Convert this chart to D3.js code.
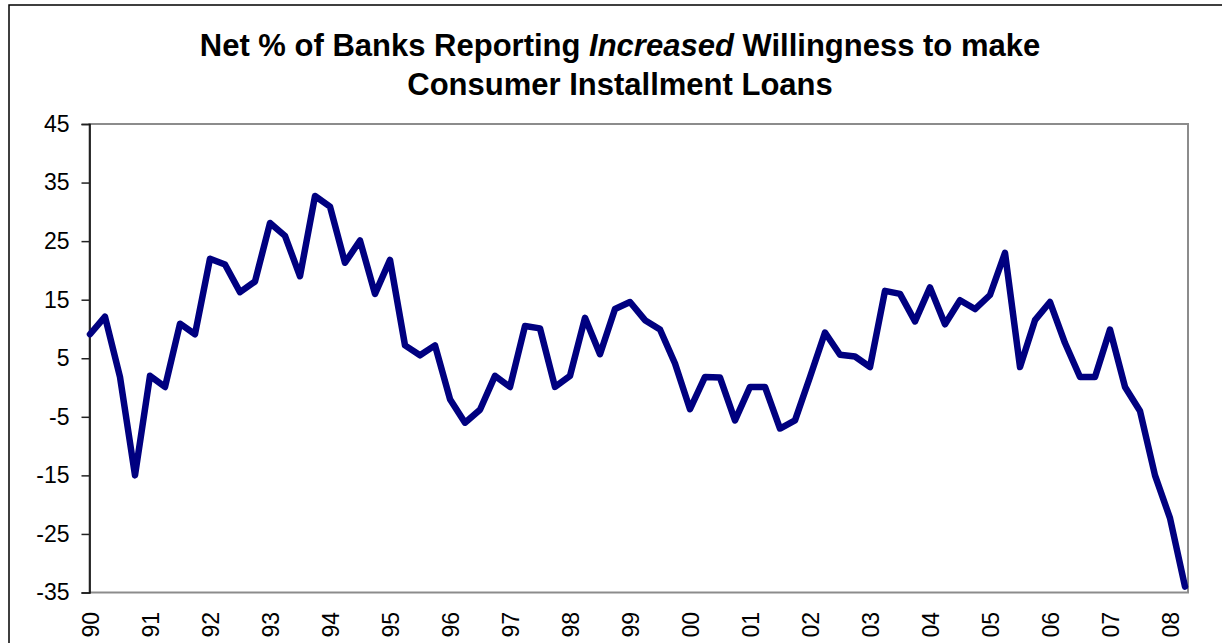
<!DOCTYPE html>
<html>
<head>
<meta charset="utf-8">
<script src="https://cdn.jsdelivr.net/npm/d3@7"></script>
<style>
  html, body { margin: 0; padding: 0; background: #fff; }
  svg { display: block; font-family: "Liberation Sans", Arial, sans-serif; }
</style>
</head>
<body>
<svg id="chart" width="1222" height="643"></svg>
<script>
// Year labels shown along the bottom (one per year, at the first quarter)
const yearLabels = ["90","91","92","93","94","95","96","97","98","99",
                    "00","01","02","03","04","05","06","07","08"];

// Quarterly net percentage, 1990 Q1 through 2008 Q2
const netPercent = [
   9.1, 12.1,  1.8, -15.0,   // 1990
   2.0,  0.1, 10.9,   9.1,   // 1991
  22.0, 21.0, 16.3,  18.1,   // 1992
  28.1, 25.9, 19.0,  32.7,   // 1993
  30.9, 21.3, 25.1,  16.0,   // 1994
  21.8,  7.2,  5.5,   7.2,   // 1995
  -2.0, -6.0, -3.8,   2.0,   // 1996
   0.1, 10.5, 10.1,   0.1,   // 1997
   2.0, 11.9,  5.7,  13.4,   // 1998
  14.6, 11.5,  9.9,   4.1,   // 1999
  -3.7,  1.8,  1.7,  -5.6,   // 2000
   0.1,  0.1, -7.0,  -5.6,   // 2001
   1.8,  9.4,  5.6,   5.3,   // 2002
   3.5, 16.5, 16.0,  11.3,   // 2003
  17.1, 10.8, 14.9,  13.4,   // 2004
  15.8, 23.0,  3.5,  11.5,   // 2005
  14.6,  7.6,  1.8,   1.8,   // 2006
   9.9,  0.1, -4.0, -15.0,   // 2007
 -22.3, -34.0                // 2008
];

// Value axis ticks
const yTicks = [45, 35, 25, 15, 5, -5, -15, -25, -35];

const svg = d3.select("#chart");
const FONT = "Liberation Sans, Arial, sans-serif";

// Outer chart frame (runs past the right and bottom edges)
svg.append("rect")
  .attr("x", 9).attr("y", 5)
  .attr("width", 1240).attr("height", 700)
  .attr("fill", "none").attr("stroke", "#000").attr("stroke-width", 1.5);

// Title
const title = svg.append("text")
  .attr("x", 620).attr("text-anchor", "middle")
  .attr("font-size", 31).attr("font-weight", "bold").attr("fill", "#000");
const l1 = title.append("tspan").attr("x", 620).attr("y", 56);
l1.append("tspan").text("Net % of Banks Reporting ");
l1.append("tspan").attr("font-style", "italic").text("Increased");
l1.append("tspan").text(" Willingness to make");
title.append("tspan").attr("x", 620).attr("y", 95).text("Consumer Installment Loans");

// Plot area
const plot = { left: 89.5, right: 1188, top: 124, bottom: 592.5 };

const x = d3.scaleLinear()
  .domain([0, netPercent.length - 1])
  .range([plot.left + 0.5, 1185]);

const y = d3.scaleLinear()
  .domain([-35, 45])
  .range([plot.bottom, plot.top]);

// Plot area border (gray)
svg.append("rect")
  .attr("x", plot.left).attr("y", plot.top)
  .attr("width", plot.right - plot.left).attr("height", plot.bottom - plot.top)
  .attr("fill", "none").attr("stroke", "#8c8c8c").attr("stroke-width", 2);

// Value axis on the left
const yAxis = d3.axisLeft(y)
  .tickValues(yTicks)
  .tickSize(8)
  .tickPadding(12)
  .tickFormat(d => String(d));

const yg = svg.append("g")
  .attr("transform", `translate(${plot.left},0)`)
  .call(yAxis);
yg.select(".domain").attr("stroke", "#000").attr("stroke-width", 1.5);
yg.selectAll(".tick line").attr("stroke", "#222").attr("stroke-width", 1.5);
yg.selectAll(".tick text")
  .attr("font-size", 23).attr("fill", "#000")
  .attr("font-family", FONT);

// Year labels, rotated, at the first quarter of each year
const xAxis = d3.axisBottom(x)
  .tickValues(yearLabels.map((_, i) => i * 4))
  .tickSize(0)
  .tickFormat((d, i) => yearLabels[i]);

const xg = svg.append("g")
  .attr("transform", `translate(0,${plot.bottom})`)
  .call(xAxis);
xg.select(".domain").remove();
xg.selectAll(".tick text")
  .attr("font-size", 23).attr("fill", "#000")
  .attr("font-family", FONT)
  .attr("text-anchor", "end")
  .attr("dy", "0.35em")
  .attr("transform", "translate(0,19.5) rotate(-90)")
  .attr("x", 0).attr("y", 0);

// Data line
const line = d3.line()
  .x((d, i) => x(i))
  .y(d => y(d));

svg.append("path")
  .datum(netPercent)
  .attr("d", line)
  .attr("fill", "none")
  .attr("stroke", "#000080")
  .attr("stroke-width", 6.5)
  .attr("stroke-linejoin", "round")
  .attr("stroke-linecap", "round");
</script>
</body>
</html>
